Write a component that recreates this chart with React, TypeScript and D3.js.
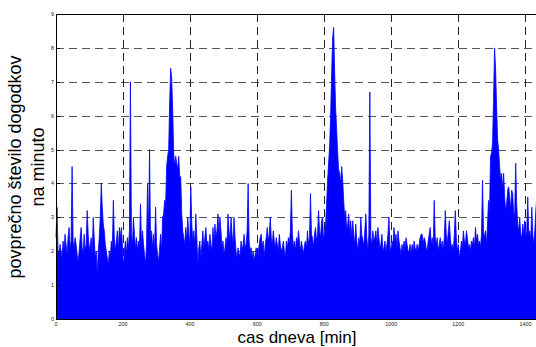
import React, { useEffect, useRef } from "react";
import * as d3 from "d3";

// average events per minute, one value every 3 minutes of the day
const minuteStep = 3;
const eventsPart1 = [
  2.4, 3.3, 2.0, 1.9, 2.2, 2.0, 1.8, 2.3, 2.0, 2.5, 2.2, 1.9, 2.4, 2.7, 2.1, 2.3, 4.5, 2.3, 2.1, 2.4,
  2.2, 1.9, 1.7, 2.0, 2.4, 2.7, 2.1, 1.9, 2.5, 2.0, 2.2, 3.2, 2.5, 2.0, 2.2, 2.4, 1.9, 3.0, 2.4, 1.8,
  2.0, 1.3, 2.0, 2.4, 3.0, 4.0, 3.3, 2.8, 2.6, 2.2, 2.0, 1.8, 1.6, 2.0, 1.8, 2.3, 2.1, 3.5, 2.4, 2.0,
  2.3, 2.6, 2.0, 2.7, 2.4, 2.7, 2.2, 1.5, 2.0, 2.3, 1.9, 2.4, 2.1, 2.6, 7.0, 2.5, 2.2, 3.0, 2.5, 2.1,
  2.4, 2.0, 2.3, 2.1, 3.4, 2.2, 2.6, 2.2, 1.9, 1.6, 2.2, 4.0, 2.5, 5.0, 2.3, 2.6, 2.1, 2.5, 2.0, 3.3,
  2.2, 1.9, 1.7, 2.1, 2.5, 2.0, 3.0, 3.1, 3.5, 3.4, 4.5, 4.8, 5.0, 6.4, 7.4, 7.1, 6.2, 4.9, 4.5, 4.8,
];
const eventsPart2 = [
  4.6, 4.4, 4.8, 4.2, 4.2, 3.1, 2.6, 2.4, 2.2, 2.7, 2.3, 3.0, 2.5, 2.2, 3.9, 2.8, 2.3, 2.6, 2.2, 3.1,
  2.4, 1.6, 2.1, 2.3, 1.8, 2.2, 2.6, 2.1, 2.4, 2.7, 2.2, 2.3, 2.0, 2.5, 2.2, 2.0, 2.7, 2.3, 2.8, 2.4,
  2.6, 3.1, 2.5, 3.0, 2.6, 2.1, 2.3, 1.9, 2.1, 2.4, 2.2, 3.1, 2.6, 2.3, 3.0, 2.5, 2.2, 3.0, 2.4, 2.0,
  1.8, 2.1, 1.9, 1.9, 2.3, 2.0, 2.2, 2.5, 2.1, 2.2, 2.6, 4.0, 2.3, 2.0, 2.1, 1.8, 2.0, 1.7, 1.9, 2.1,
  1.8, 1.9, 2.2, 2.4, 2.5, 2.1, 2.3, 1.8, 2.2, 2.4, 2.7, 2.3, 2.5, 3.0, 2.4, 2.2, 2.6, 2.3, 2.1, 2.4,
  2.2, 2.0, 2.5, 2.2, 2.0, 2.1, 2.3, 2.0, 1.8, 2.3, 2.1, 2.4, 2.2, 2.6, 3.8, 2.5, 2.1, 2.3, 2.0, 2.4,
];
const eventsPart3 = [
  2.2, 2.6, 2.3, 2.0, 2.3, 2.1, 1.9, 2.2, 2.3, 2.1, 2.6, 2.2, 2.4, 3.7, 2.5, 2.4, 2.1, 2.5, 2.7, 2.3,
  2.5, 3.2, 2.6, 2.4, 2.9, 3.0, 2.3, 2.6, 2.8, 3.4, 4.1, 4.6, 5.1, 6.0, 7.2, 8.3, 8.6, 7.3, 6.2, 5.6,
  4.9, 4.4, 4.3, 4.0, 4.5, 4.1, 3.5, 3.0, 3.2, 2.6, 2.8, 3.1, 2.5, 2.9, 2.4, 2.9, 2.5, 2.2, 2.8, 2.3,
  2.0, 2.4, 2.2, 3.0, 2.5, 2.3, 2.2, 2.6, 3.1, 2.4, 2.0, 2.5, 6.7, 2.4, 2.2, 2.6, 2.3, 2.4, 2.6, 2.2,
  2.7, 2.4, 2.1, 2.2, 2.5, 2.0, 2.1, 2.3, 2.0, 2.2, 2.5, 3.0, 2.2, 1.9, 2.3, 2.2, 2.7, 2.3, 2.5, 2.1,
  2.6, 2.3, 2.1, 1.9, 2.2, 2.0, 2.3, 2.1, 2.4, 2.2, 2.0, 2.0, 2.2, 1.9, 2.2, 2.0, 2.3, 2.1, 2.0, 2.2,
];
const eventsPart4 = [
  2.0, 2.2, 2.4, 2.5, 2.5, 2.2, 2.4, 2.3, 2.1, 2.0, 2.3, 2.5, 2.7, 2.2, 2.4, 2.1, 3.5, 2.4, 2.2, 2.4,
  2.0, 2.2, 2.4, 2.1, 2.3, 2.0, 2.4, 3.2, 2.5, 2.2, 2.6, 2.9, 2.4, 2.1, 2.2, 2.0, 2.5, 3.2, 2.4, 2.0,
  2.2, 1.8, 2.0, 2.3, 2.1, 2.6, 2.3, 2.2, 2.6, 2.4, 2.1, 2.2, 2.0, 2.3, 2.2, 2.4, 2.1, 2.7, 2.3, 2.5,
  2.2, 2.3, 2.1, 2.5, 4.1, 2.6, 2.4, 2.6, 2.2, 2.8, 3.5, 3.2, 4.8, 4.9, 5.2, 6.5, 8.0, 7.4, 6.3, 5.3,
  5.0, 4.5, 4.1, 4.3, 3.8, 4.3, 3.6, 3.2, 3.4, 3.8, 3.9, 3.6, 3.2, 3.8, 3.7, 3.1, 3.1, 4.6, 3.4, 2.8,
  2.6, 3.0, 2.5, 2.4, 2.8, 2.5, 2.9, 2.4, 2.6, 3.6, 2.5, 2.6, 2.3, 3.3, 2.5, 2.2, 2.6, 3.2, 3.6, 2.4,
];
const xTicks = [0, 200, 400, 600, 800, 1000, 1200, 1400];
const yTicks = [0, 1, 2, 3, 4, 5, 6, 7, 8, 9];
const yLabelLines = ["povprečno število dogodkov", "na minuto"];
const xLabel = "cas dneva [min]";

const W = 536;
const H = 347;

export default function App() {
  const ref = useRef<SVGSVGElement>(null);

  useEffect(() => {
    const svg = d3.select(ref.current);
    svg.selectAll("*").remove();

    const values = [...eventsPart1, ...eventsPart2, ...eventsPart3, ...eventsPart4];
    const data = values.map((v, i) => ({ t: i * minuteStep, v }));

    const left = 56, top = 14, bottom = 319;
    const x = d3.scaleLinear().domain([0, 1440]).range([left, left + 1440 * 0.3353]);
    const y = d3.scaleLinear().domain([0, 9]).range([bottom, top]);
    const right = x(1440);
    const font = "'Liberation Sans', Arial, sans-serif";

    // grid
    svg.append("g")
      .selectAll("line")
      .data(yTicks.filter(d => d > 0 && d < 9))
      .join("line")
      .attr("x1", left).attr("x2", right)
      .attr("y1", d => Math.round(y(d)) + 0.5).attr("y2", d => Math.round(y(d)) + 0.5)
      .attr("stroke", "#555").attr("stroke-dasharray", "8,5");
    svg.append("g")
      .selectAll("line")
      .data(xTicks.filter(d => d > 0))
      .join("line")
      .attr("x1", d => Math.round(x(d)) + 0.5).attr("x2", d => Math.round(x(d)) + 0.5)
      .attr("y1", top).attr("y2", bottom)
      .attr("stroke", "#222").attr("stroke-dasharray", "8,5");

    const area = d3.area<{ t: number; v: number }>()
      .x(d => x(d.t))
      .y0(y(0))
      .y1(d => y(d.v));
    const line = d3.line<{ t: number; v: number }>()
      .x(d => x(d.t))
      .y(d => y(d.v));

    svg.append("path").datum(data).attr("d", area).attr("fill", "#0000ff");
    svg.append("path").datum(data).attr("d", line)
      .attr("fill", "none").attr("stroke", "#0000ff").attr("stroke-width", 0.8);

    // axes box
    svg.append("rect")
      .attr("x", left + 0.5).attr("y", top + 0.5)
      .attr("width", right - left).attr("height", bottom - top)
      .attr("fill", "none").attr("stroke", "#000");

    // ticks
    svg.append("g")
      .selectAll("line")
      .data(yTicks)
      .join("line")
      .attr("x1", left).attr("x2", left + 4)
      .attr("y1", d => Math.round(y(d)) + 0.5).attr("y2", d => Math.round(y(d)) + 0.5)
      .attr("stroke", "#000");
    svg.append("g")
      .selectAll("text")
      .data(yTicks)
      .join("text")
      .attr("x", left - 2)
      .attr("y", d => y(d) + 2)
      .attr("text-anchor", "end")
      .attr("font-size", 5.4)
      .attr("font-family", font)
      .attr("fill", "#222")
      .text(d => d);
    svg.append("g")
      .selectAll("text")
      .data(xTicks)
      .join("text")
      .attr("x", d => x(d))
      .attr("y", bottom + 6.5)
      .attr("text-anchor", "middle")
      .attr("font-size", 5.4)
      .attr("font-family", font)
      .attr("fill", "#222")
      .text(d => d);

    // labels
    svg.append("text")
      .attr("x", 297).attr("y", 343)
      .attr("text-anchor", "middle")
      .attr("font-size", 17)
      .attr("font-family", font)
      .attr("fill", "#000")
      .text(xLabel);

    const yl = svg.append("text")
      .attr("transform", "translate(0,167) rotate(-90)")
      .attr("text-anchor", "middle")
      .attr("font-size", 18)
      .attr("font-family", font)
      .attr("fill", "#000");
    yLabelLines.forEach((s, i) => {
      yl.append("tspan").attr("x", 0).attr("y", i === 0 ? 21 : 44).text(s);
    });
  }, []);

  return (
    <svg ref={ref} width={W} height={H}
      style={{ position: "absolute", left: 0, top: 0, background: "#fff" }} />
  );
}
